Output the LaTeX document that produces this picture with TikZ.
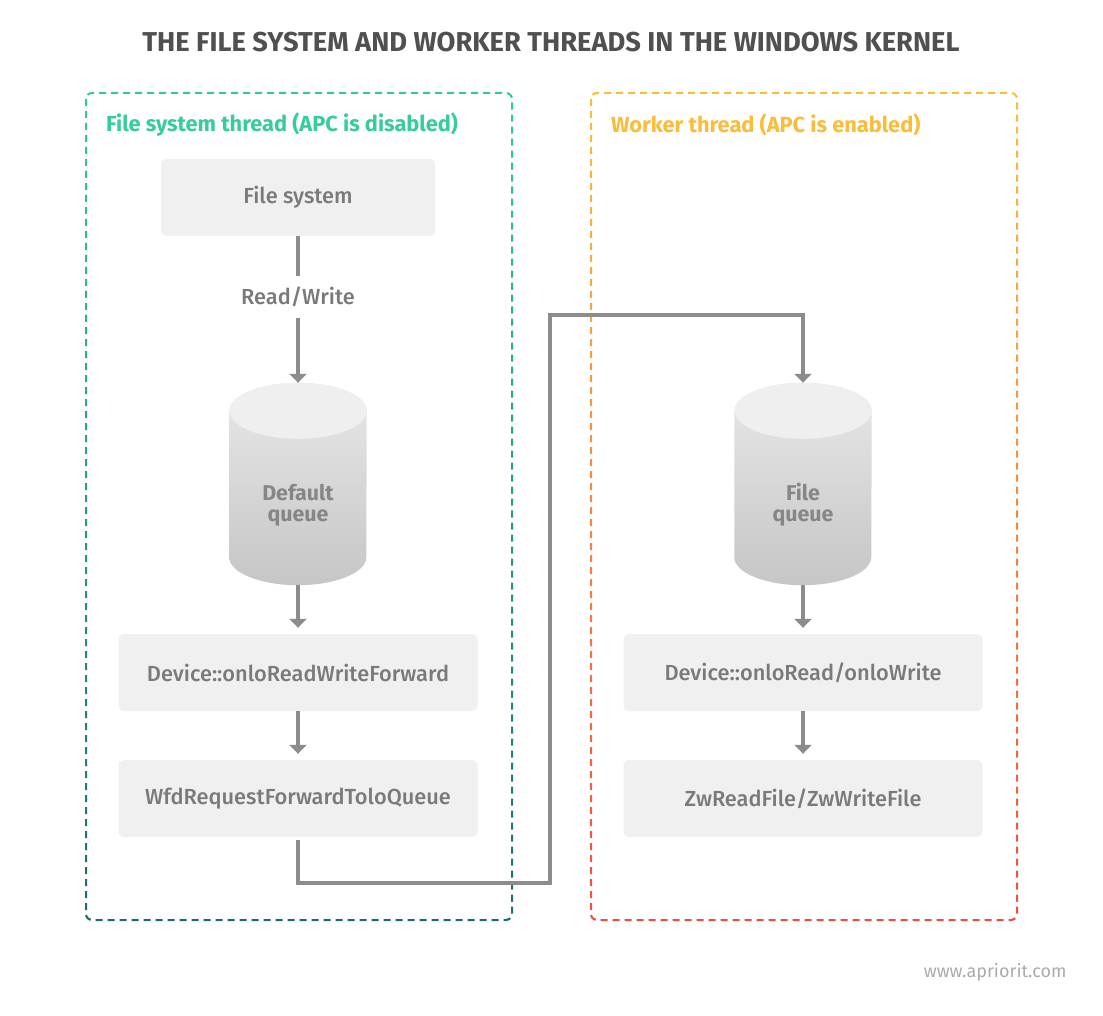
\documentclass[tikz,border=0pt]{standalone}
\usepackage{fontspec}
\setmainfont{Fira Sans}
\newfontfamily\medfont{Fira Sans Medium}
\usetikzlibrary{arrows.meta}

\definecolor{titlegray}{HTML}{505050}
\definecolor{boxgray}{HTML}{F0F0F0}
\definecolor{textgray}{HTML}{7A7A7A}
\definecolor{qtextgray}{HTML}{868686}
\definecolor{linegray}{HTML}{8C8C8C}
\definecolor{markgray}{HTML}{ABABAB}
\definecolor{fsgreen}{HTML}{35CD9B}
\definecolor{fsgreentop}{HTML}{2DCC99}
\definecolor{fsgreenbot}{HTML}{1D6A6C}
\definecolor{wkyellow}{HTML}{FBBD39}
\definecolor{wkorange}{HTML}{F99E3C}
\definecolor{wkred}{HTML}{F04B3F}
\definecolor{cyltop}{HTML}{EFEFEF}
\definecolor{cylhigh}{HTML}{E8E8E8}
\definecolor{cyllow}{HTML}{C6C6C6}

\tikzset{
  titletext/.style={text=titlegray,font=\bfseries\fontsize{27.3}{32}\selectfont},
  threadlbl/.style={anchor=west,inner sep=0pt,font=\bfseries\fontsize{21.8}{26}\selectfont},
  callbox/.style={fill=boxgray,rounded corners=5pt,minimum width=359pt,minimum height=77pt,
    inner sep=0pt,text=textgray,font=\medfont\fontsize{21.8}{25}\selectfont},
  rwlabel/.style={inner sep=0pt,minimum height=42pt,text=textgray,font=\medfont\fontsize{21.8}{25}\selectfont},
  queue/.style={inner sep=0pt,minimum width=137pt,minimum height=202pt},
  queuetxt/.style={align=center,text=qtextgray,font=\bfseries\fontsize{21.4}{21}\selectfont},
  flowline/.style={draw=linegray,line width=3.4pt},
  flow/.style={flowline,-{Triangle[width=17pt,length=9pt]}},
  threadbox/.style={line width=2pt,rounded corners=6pt,dash pattern=on 7pt off 5pt},
}

% cylinder drawn over the anchors of a queue node
\newcommand\drawqueue[1]{%
  \shade[top color=cylhigh,bottom color=cyllow]
    ([yshift=-28pt]#1.north west) -- ([yshift=28pt]#1.south west)
    arc[start angle=180,end angle=360,x radius=68.5pt,y radius=28pt]
    -- ([yshift=-28pt]#1.north east)
    arc[start angle=0,end angle=180,x radius=68.5pt,y radius=28pt] -- cycle;
  \fill[cyltop] ([yshift=-28pt]#1.north) ellipse[x radius=68.5pt,y radius=28pt];
}

\begin{document}
\begin{tikzpicture}[x=1pt,y=-1pt]
  \useasboundingbox[fill=white] (0,0) rectangle (1103,1016);

  \node[titletext] (title) at (551,42) {THE FILE SYSTEM AND WORKER THREADS IN THE WINDOWS KERNEL};

  % dashed thread frames, coloured strip by strip
  \foreach \i in {0,...,49}{
    \pgfmathsetmacro\ya{85+\i*17}
    \pgfmathtruncatemacro\mixg{min(100,max(0,(\ya-93)/827*100))}
    \pgfmathtruncatemacro\mixa{min(100,max(0,(\ya-93)/257*100))}
    \pgfmathtruncatemacro\mixb{min(100,max(0,(\ya-350)/570*100))}
    \colorlet{leftc}{fsgreenbot!\mixg!fsgreentop}
    \colorlet{midc}{wkorange!\mixa!wkyellow}
    \colorlet{rightc}{wkred!\mixb!midc}
    \begin{scope}
      \clip (70,\ya) rectangle (1040,\ya+17.5);
      \draw[threadbox,leftc] (86,93) rectangle (512,920);
      \draw[threadbox,rightc] (591,93) rectangle (1017,920);
    \end{scope}
  }

  \node[threadlbl,text=fsgreen] (fslbl) at (106,125) {File system thread (APC is disabled)};
  \node[threadlbl,text=wkyellow] (wklbl) at (611,125) {Worker thread (APC is enabled)};

  % file system thread
  \node[callbox,minimum width=274pt] (fs) at (298,197.5) {File system};
  \node[rwlabel] (rw) at (298,297) {Read/Write};
  \node[queue] (dq) at (298,484) {};
  \drawqueue{dq}
  \node[queuetxt] (dqtxt) at ([yshift=-21pt]dq.center) {Default\\queue};
  \node[callbox] (fwd) at (298,672.5) {Device::onloReadWriteForward};
  \node[callbox] (wfd) at (298,798.5) {WfdRequestForwardToloQueue};

  % worker thread
  \node[queue] (fq) at (803,484) {};
  \drawqueue{fq}
  \node[queuetxt] (fqtxt) at ([yshift=-21pt]fq.center) {File\\queue};
  \node[callbox] (rdwr) at (803,672.5) {Device::onloRead/onloWrite};
  \node[callbox] (zw) at (803,798.5) {ZwReadFile/ZwWriteFile};

  \coordinate (lowbend) at (550,883);
  \coordinate (highbend) at (550,315);

  \draw[flowline] (fs.south) -- (rw.north);
  \draw[flow] (rw.south) -- (dq.north);
  \draw[flow,shorten >=6pt] (dq.south) -- (fwd.north);
  \draw[flow,shorten >=6pt] (fwd.south) -- (wfd.north);
  \draw[flow,shorten <=3pt] (wfd.south) |- (lowbend) -- (highbend) -| (fq.north);
  \draw[flow,shorten >=6pt] (fq.south) -- (rdwr.north);
  \draw[flow,shorten >=6pt] (rdwr.south) -- (zw.north);

  \node[anchor=east,text=markgray,font=\fontsize{18}{21}\selectfont] (site) at (1070,972) {www.apriorit.com};
\end{tikzpicture}
\end{document}
